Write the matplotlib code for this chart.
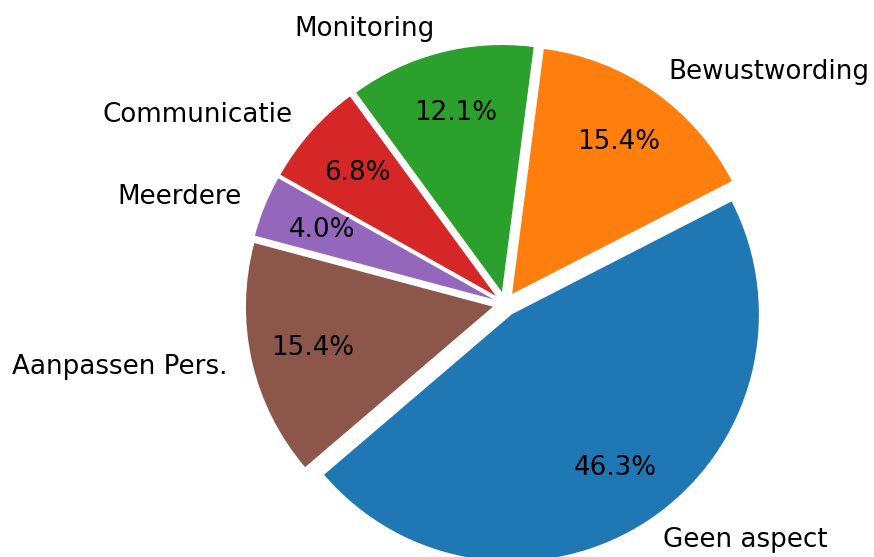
import matplotlib
matplotlib.use("Agg")
import matplotlib.pyplot as plt

labels = ["Geen aspect", "Bewustwording", "Monitoring", "Communicatie", "Meerdere", "Aanpassen Pers."]
values = [46.3, 15.4, 12.1, 6.8, 4.0, 15.4]
colors = ["#1f77b4", "#ff7f0e", "#2ca02c", "#d62728", "#9467bd", "#8c564b"]

W, H = 874, 557
cx, cy, R = 505, 304, 247

fig = plt.figure(figsize=(W / 100, H / 100), dpi=100)
ax = fig.add_axes([0, 0, 1, 1])
ax.pie(values, labels=labels, colors=colors, explode=[0.05] * len(values),
       startangle=220.5, autopct="%1.1f%%", pctdistance=0.75, labeldistance=1.1,
       textprops={"fontsize": 18.8})
ax.set_xlim(-cx / R, (W - cx) / R)
ax.set_ylim(-(H - cy) / R, cy / R)
ax.set_aspect("auto")
fig.savefig("out.png", dpi=100)
